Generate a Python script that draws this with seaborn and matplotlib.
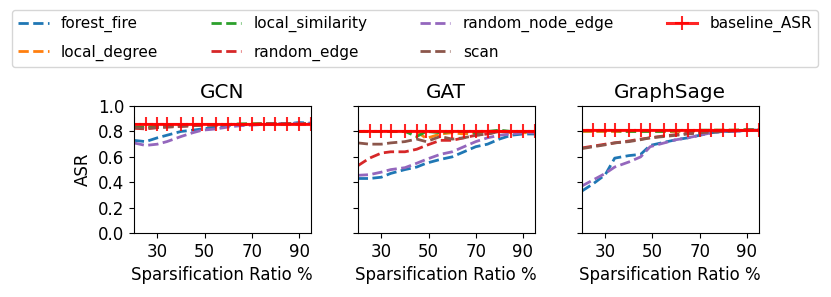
import numpy as np
import pandas as pd
import matplotlib
matplotlib.use("Agg")
import matplotlib.pyplot as plt
import seaborn as sns
from matplotlib.lines import Line2D

# Sparsification ratios (%)
ratios = [20, 25, 30, 34, 40, 45, 49, 55, 60, 65, 70, 75, 80, 85, 90, 95]

methods = ["forest_fire", "local_degree", "local_similarity",
           "random_edge", "random_node_edge", "scan"]
models = ["GCN", "GAT", "GraphSage"]

# ASR per model / method
gcn_forest_fire = [0.73, 0.72, 0.75, 0.77, 0.80, 0.81, 0.82, 0.835, 0.845, 0.85, 0.855, 0.855, 0.86, 0.86, 0.87, 0.865]
gcn_local_degree = [0.83, 0.83, 0.84, 0.84, 0.845, 0.85, 0.85, 0.855, 0.855, 0.855, 0.86, 0.86, 0.86, 0.86, 0.86, 0.86]
gcn_local_similarity = [0.835, 0.835, 0.84, 0.845, 0.85, 0.85, 0.855, 0.855, 0.855, 0.86, 0.86, 0.86, 0.86, 0.86, 0.86, 0.86]
gcn_random_edge = [0.825, 0.82, 0.83, 0.835, 0.84, 0.845, 0.85, 0.85, 0.855, 0.855, 0.855, 0.86, 0.86, 0.86, 0.86, 0.86]
gcn_random_node_edge = [0.71, 0.69, 0.70, 0.72, 0.76, 0.79, 0.81, 0.82, 0.835, 0.845, 0.85, 0.855, 0.86, 0.86, 0.865, 0.86]
gcn_scan = [0.83, 0.825, 0.83, 0.835, 0.84, 0.845, 0.85, 0.85, 0.855, 0.855, 0.855, 0.86, 0.86, 0.86, 0.86, 0.86]

gat_forest_fire = [0.43, 0.43, 0.44, 0.47, 0.50, 0.52, 0.55, 0.58, 0.60, 0.64, 0.68, 0.70, 0.74, 0.77, 0.78, 0.78]
gat_local_degree = [0.80, 0.80, 0.80, 0.80, 0.80, 0.80, 0.745, 0.78, 0.79, 0.78, 0.79, 0.80, 0.80, 0.79, 0.79, 0.79]
gat_local_similarity = [0.80, 0.80, 0.80, 0.80, 0.80, 0.76, 0.80, 0.79, 0.80, 0.80, 0.79, 0.80, 0.81, 0.80, 0.80, 0.79]
gat_random_edge = [0.53, 0.59, 0.63, 0.64, 0.64, 0.66, 0.69, 0.73, 0.73, 0.75, 0.77, 0.78, 0.80, 0.80, 0.80, 0.80]
gat_random_node_edge = [0.455, 0.46, 0.48, 0.50, 0.515, 0.55, 0.58, 0.62, 0.64, 0.68, 0.72, 0.75, 0.77, 0.78, 0.79, 0.79]
gat_scan = [0.71, 0.70, 0.70, 0.71, 0.72, 0.74, 0.72, 0.76, 0.74, 0.75, 0.77, 0.78, 0.80, 0.80, 0.80, 0.80]

sage_forest_fire = [0.33, 0.39, 0.46, 0.59, 0.61, 0.62, 0.69, 0.715, 0.735, 0.75, 0.77, 0.79, 0.80, 0.80, 0.81, 0.81]
sage_local_degree = [0.80, 0.80, 0.80, 0.80, 0.80, 0.80, 0.80, 0.80, 0.80, 0.80, 0.805, 0.81, 0.81, 0.81, 0.81, 0.81]
sage_local_similarity = [0.805, 0.805, 0.805, 0.805, 0.80, 0.80, 0.80, 0.80, 0.805, 0.805, 0.81, 0.81, 0.81, 0.81, 0.815, 0.815]
sage_random_edge = [0.67, 0.685, 0.70, 0.71, 0.725, 0.74, 0.75, 0.765, 0.775, 0.785, 0.79, 0.80, 0.80, 0.805, 0.81, 0.81]
sage_random_node_edge = [0.37, 0.42, 0.47, 0.52, 0.56, 0.60, 0.68, 0.71, 0.735, 0.75, 0.77, 0.79, 0.80, 0.80, 0.81, 0.81]
sage_scan = [0.665, 0.68, 0.695, 0.71, 0.72, 0.735, 0.75, 0.76, 0.77, 0.78, 0.79, 0.795, 0.80, 0.805, 0.81, 0.81]

baseline_asr = [0.855, 0.805, 0.81]

asr = {
    "GCN": [gcn_forest_fire, gcn_local_degree, gcn_local_similarity,
            gcn_random_edge, gcn_random_node_edge, gcn_scan],
    "GAT": [gat_forest_fire, gat_local_degree, gat_local_similarity,
            gat_random_edge, gat_random_node_edge, gat_scan],
    "GraphSage": [sage_forest_fire, sage_local_degree, sage_local_similarity,
                  sage_random_edge, sage_random_node_edge, sage_scan],
}

# long-form table
rows = []
for model in models:
    for method, vals in zip(methods, asr[model]):
        for r, v in zip(ratios, vals):
            rows.append({"model": model, "method": method, "ratio": r, "ASR": v})
df = pd.DataFrame(rows)

plt.rcParams["font.family"] = ["DejaVu Sans"]

palette = dict(zip(methods, sns.color_palette("tab10", 6)))
base_style = dict(color="red", marker="+", markersize=9.5, markeredgewidth=1.5,
                  linewidth=2.2, alpha=0.85)

fig, axes = plt.subplots(1, 3, figsize=(8.31, 2.97), dpi=100, sharey=True)
fig.subplots_adjust(left=0.161, right=0.913, bottom=0.215, top=0.643, wspace=0.265)

for ax, model, base in zip(axes, models, baseline_asr):
    sub = df[df["model"] == model]
    sns.lineplot(data=sub, x="ratio", y="ASR", hue="method", hue_order=methods,
                 palette=palette, linestyle="--", linewidth=2, ax=ax, legend=False)
    ax.plot(ratios, [base] * len(ratios), **base_style)
    ax.set_title(model, fontsize=14.4)
    ax.set_xlim(20, 95)
    ax.set_ylim(0, 1.0)
    ax.set_xticks([30, 50, 70, 90])
    ax.set_yticks([0.0, 0.2, 0.4, 0.6, 0.8, 1.0])
    ax.set_xlabel("Sparsification Ratio %", fontsize=12)
    ax.set_ylabel("ASR", fontsize=12)
    ax.tick_params(labelsize=12)
    ax.yaxis.set_tick_params(labelleft=(model == "GCN"))

# legend handles
handles = [Line2D([], [], color=palette[m], linestyle="--", linewidth=2) for m in methods]
handles.append(Line2D([], [], **base_style))
labels = methods + ["baseline_ASR"]
fig.legend(handles, labels, loc="upper center", ncol=4, mode="expand",
           bbox_to_anchor=(0.0144, 0.0, 0.970, 0.966), borderaxespad=0,
           fontsize=11, labelspacing=0.8, frameon=True)

fig.savefig("out.png", dpi=100)
